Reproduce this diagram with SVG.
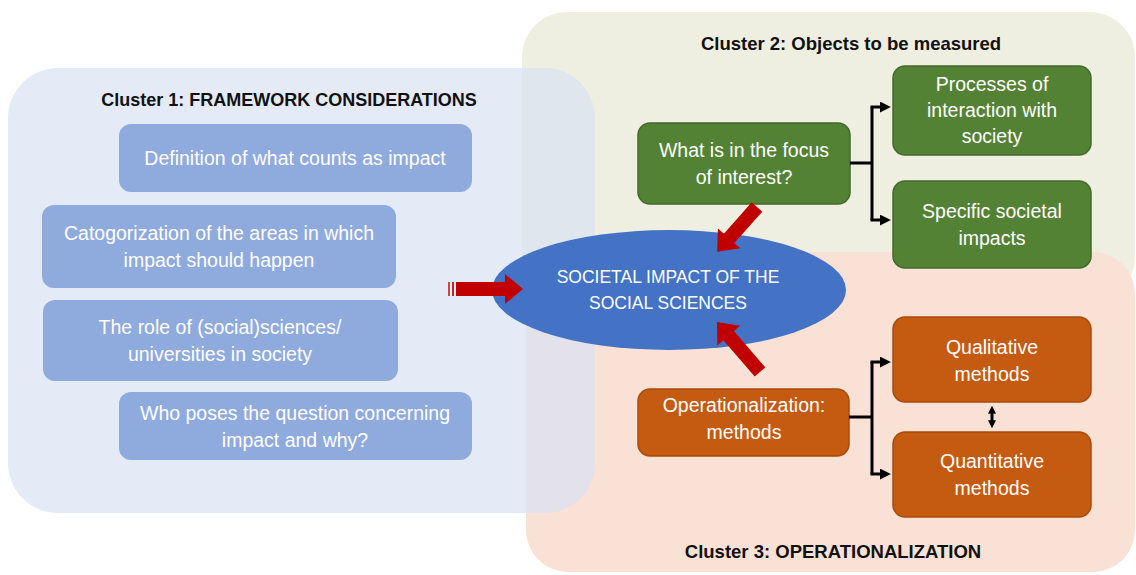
<svg xmlns="http://www.w3.org/2000/svg" width="1136" height="575" viewBox="0 0 1136 575">
<defs>
<style>
.title{font-family:"Liberation Sans",Arial,sans-serif;font-weight:bold;font-size:18.5px;fill:#111;text-anchor:middle}
.bt{font-family:"Liberation Sans",Arial,sans-serif;font-size:19.5px;fill:#fff;text-anchor:middle}
.et{font-family:"Liberation Sans",Arial,sans-serif;font-size:17.5px;fill:#fff;text-anchor:middle}
.blue{fill:#8FAADC}
.green{fill:#548235;stroke:#41692A;stroke-width:1.5}
.orange{fill:#C55A11;stroke:#A94B0C;stroke-width:1.5}
.conn{fill:none;stroke:#000;stroke-width:3}
.red{fill:#C00000}
</style>
<marker id="ah" viewBox="0 0 10 10" refX="1" refY="5" markerWidth="11" markerHeight="11" markerUnits="userSpaceOnUse" orient="auto">
<path d="M0,0 L10,5 L0,10 z" fill="#000"/>
</marker>
<marker id="ahs" viewBox="0 0 10 10" refX="1" refY="5" markerWidth="8" markerHeight="8" markerUnits="userSpaceOnUse" orient="auto-start-reverse">
<path d="M0,0 L10,5 L0,10 z" fill="#000"/>
</marker>
</defs>
<rect width="1136" height="575" fill="#fff"/>
<g id="cluster2">
<rect x="522" y="12" width="613" height="290" rx="45" fill="#EFEFE1"/>
<text class="title" x="851" y="50">Cluster 2: Objects to be measured</text>
</g>
<g id="cluster3">
<rect x="526" y="252" width="609" height="320" rx="42" fill="#F9E1D5"/>
<text class="title" x="833" y="558">Cluster 3: OPERATIONALIZATION</text>
</g>
<g id="cluster1">
<rect x="8" y="68" width="587" height="445" rx="50" fill="#D9E2F3" fill-opacity="0.72"/>
<text class="title" x="289" y="106" style="font-size:18px">Cluster 1: FRAMEWORK CONSIDERATIONS</text>
</g>
<g id="n-definition">
<rect class="blue" x="119" y="124" width="353" height="68" rx="12"/>
<text class="bt" x="295" y="165">Definition of what counts as impact</text>
</g>
<g id="n-categorization">
<rect class="blue" x="42" y="205" width="354" height="83" rx="12"/>
<text class="bt" x="219" y="240">Catogorization of the areas in which</text>
<text class="bt" x="219" y="267">impact should happen</text>
</g>
<g id="n-role">
<rect class="blue" x="43" y="300" width="355" height="81" rx="12"/>
<text class="bt" x="220" y="334">The role of (social)sciences/</text>
<text class="bt" x="220" y="361">universities in society</text>
</g>
<g id="n-who">
<rect class="blue" x="119" y="392" width="353" height="68" rx="12"/>
<text class="bt" x="295" y="420">Who poses the question concerning</text>
<text class="bt" x="295" y="447">impact and why?</text>
</g>
<g id="n-societal">
<ellipse cx="669" cy="290" rx="177" ry="60" fill="#4472C4"/>
<text class="et" x="668" y="283">SOCIETAL IMPACT OF THE</text>
<text class="et" x="668" y="309">SOCIAL SCIENCES</text>
</g>
<g id="n-focus">
<rect class="green" x="638" y="123" width="212" height="81" rx="12"/>
<text class="bt" x="744" y="157">What is in the focus</text>
<text class="bt" x="744" y="184">of interest?</text>
</g>
<g id="n-processes">
<rect class="green" x="893" y="66" width="198" height="89" rx="12"/>
<text class="bt" x="992" y="91">Processes of</text>
<text class="bt" x="992" y="117">interaction with</text>
<text class="bt" x="992" y="143">society</text>
</g>
<g id="n-specific">
<rect class="green" x="893" y="181" width="198" height="87" rx="12"/>
<text class="bt" x="992" y="218">Specific societal</text>
<text class="bt" x="992" y="245">impacts</text>
</g>
<g id="n-operationalization">
<rect class="orange" x="638" y="389" width="211" height="67" rx="12"/>
<text class="bt" x="744" y="412">Operationalization:</text>
<text class="bt" x="744" y="439">methods</text>
</g>
<g id="n-qualitative">
<rect class="orange" x="893" y="317" width="198" height="85" rx="12"/>
<text class="bt" x="992" y="354">Qualitative</text>
<text class="bt" x="992" y="381">methods</text>
</g>
<g id="n-quantitative">
<rect class="orange" x="893" y="432" width="198" height="85" rx="12"/>
<text class="bt" x="992" y="468">Quantitative</text>
<text class="bt" x="992" y="495">methods</text>
</g>
<g id="connectors">
<path class="conn" d="M850,163 H872"/>
<path class="conn" d="M872,107 V220"/>
<path class="conn" d="M870.5,107 H881" marker-end="url(#ah)"/>
<path class="conn" d="M870.5,220 H881" marker-end="url(#ah)"/>
<path class="conn" d="M849,417 H872"/>
<path class="conn" d="M872,362 V474"/>
<path class="conn" d="M870.5,362 H881" marker-end="url(#ah)"/>
<path class="conn" d="M870.5,474 H881" marker-end="url(#ah)"/>
<path class="conn" d="M992,413 V421" marker-start="url(#ahs)" marker-end="url(#ahs)"/>
<g id="arrow-left">
<rect class="red" x="448" y="282" width="2" height="14" opacity="0.7"/>
<rect class="red" x="452" y="282" width="2" height="14" opacity="0.85"/>
<polygon class="red" points="456,282 505,282 505,274 523,289 505,304 505,296 456,296"/>
</g>
<g id="arrow-top" transform="translate(757,207) rotate(131.6)">
<polygon class="red" points="0,-7 42,-7 42,-15 60,0 42,15 42,7 0,7"/>
</g>
<g id="arrow-bottom" transform="translate(760,372) rotate(229.3)">
<polygon class="red" points="0,-7 48,-7 48,-15 66,0 48,15 48,7 0,7"/>
</g>
</g>
</svg>
